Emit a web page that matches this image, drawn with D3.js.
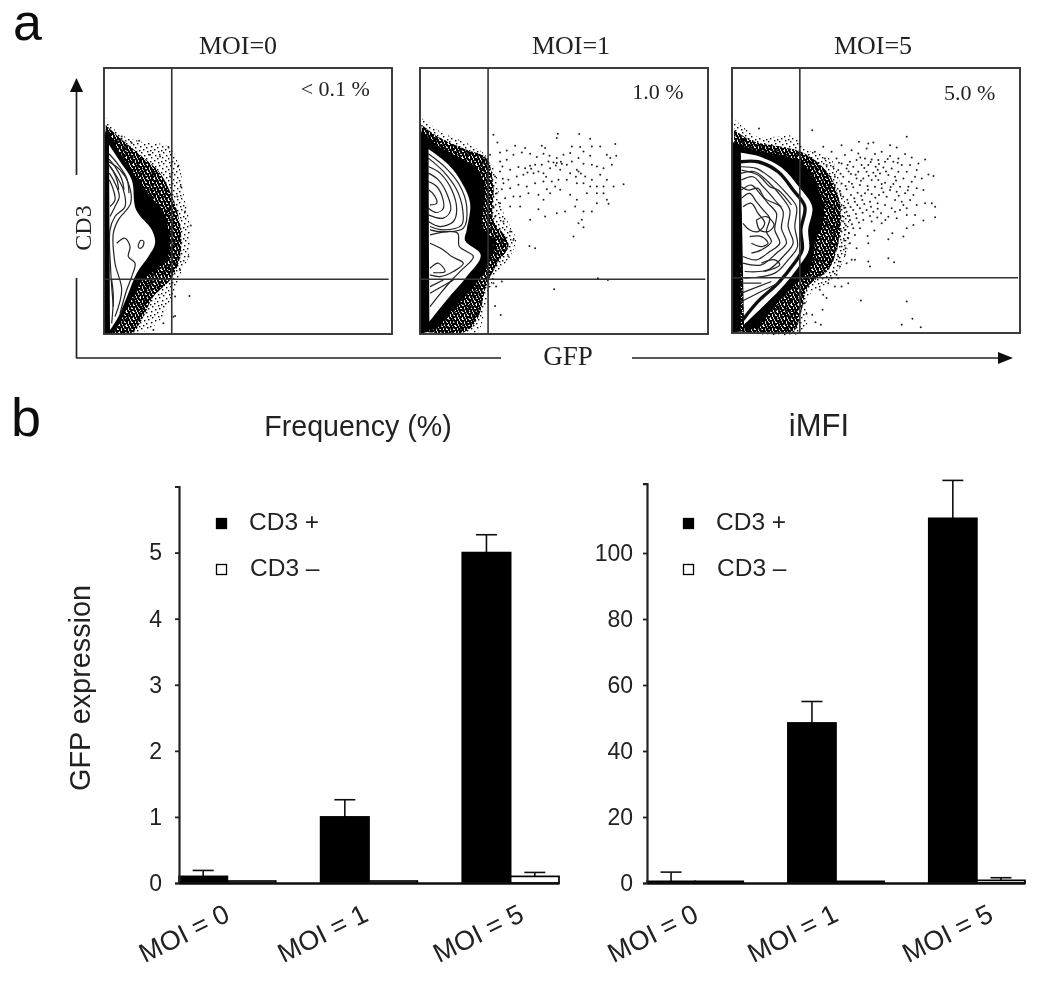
<!DOCTYPE html>
<html><head><meta charset="utf-8">
<style>html,body{margin:0;padding:0;background:#fff}svg{display:block}</style>
<script src="https://cdnjs.cloudflare.com/ajax/libs/d3/7.8.5/d3.min.js"></script>
</head><body><div id="c"></div>
<script>
// ---------- bar chart data ----------
const groups = ["MOI = 0","MOI = 1","MOI = 5"];
const seriesNames = ["CD3 +","CD3 –"];
const freqPos = [0.1,1.0,5.0];
const freqNeg = [0.03,0.03,0.1];
const freqPosErr = [0.09,0.26,0.27];
const freqNegErr = [0,0,0.06];
const freqTicks = [0,1,2,3,4,5,6];
const mfiPos = [0.5,48.5,110.5];
const mfiNeg = [0.5,0.5,0.8];
const mfiPosErr = [2.8,6.5,11.5];
const mfiNegErr = [0,0,0.8];
const mfiTicks = [0,20,40,60,80,100,121];

// ---------- flow cytometry data (GFP channel, CD3 channel) ----------
const aHaloOuter=[[137,262],[175,310],[240,335],[325,350],[358,410],[372,500],[388,580],[385,680],[360,735],[335,800],[300,870],[250,905],[140,908]];
const aHaloInner=[[137,285],[180,325],[240,375],[300,430],[340,510],[362,600],[358,690],[330,750],[280,800],[245,870],[215,908],[140,908]];
const aSolid=[[137,295],[165,345],[210,415],[260,485],[310,550],[328,620],[322,685],[280,725],[240,760],[208,820],[178,880],[158,908],[137,908]];
const aCore=[[147,345],[180,395],[215,450],[228,540],[275,600],[285,640],[265,680],[230,730],[205,790],[175,860],[150,900]];
const aContours=[
[[145,395],[180,420],[205,460],[212,520],[175,570],[160,610],[165,700],[185,780],[165,860]],
[[150,410],[170,440],[190,480],[195,530],[165,560],[150,600],[152,720],[160,830]],
[[148,430],[165,460],[178,500],[165,530],[150,560]],
[[148,450],[160,480],[165,510],[150,530]],
[[147,372],[175,405],[200,445],[207,490]],
[[147,388],[168,415],[186,450],[192,480]],
[[147,405],[160,425],[172,455],[176,480]],
[[170,640],[195,625],[210,650],[205,680],[225,700],[215,740],[200,780],[180,850]],
[[234,648],[242,632],[251,634],[248,650],[238,655],[234,648]],
[[155,750],[160,800],[155,880]]];
const aLeftBar=[[132,300],[145,320],[145,912],[132,912]];
const aDots=[[237,333],[325,352],[355,408],[392,587],[388,798],[345,858],[362,470],[375,545],[385,680],[360,720],[345,800],[330,440],[300,380],[270,375],[215,340],[185,320],[352,500],[340,860],[310,880],[280,900]];

const bHaloOuter=[[35,265],[90,305],[170,340],[225,375],[260,440],[270,520],[300,590],[318,630],[300,680],[250,750],[225,840],[200,905],[40,905]];
const bHaloInner=[[35,285],[90,325],[170,360],[228,385],[250,470],[250,570],[285,620],[295,650],[262,700],[228,770],[205,860],[165,905],[40,905]];
const bSolid=[[35,300],[80,345],[150,385],[200,415],[225,480],[218,590],[258,640],[238,690],[210,745],[165,800],[110,860],[80,895],[40,905]];
const bCore=[[55,358],[110,400],[150,450],[180,520],[170,600],[165,632],[212,675],[170,740],[110,810],[58,875]];
const bContours=[
[[55,372],[105,412],[148,465],[170,530],[160,595],[100,606],[60,600]],
[[55,385],[100,425],[140,480],[158,540],[155,585],[100,600],[60,590]],
[[55,410],[90,430],[125,480],[140,540],[130,575],[90,590],[55,575]],
[[55,430],[85,450],[110,490],[122,540],[100,565],[55,555]],
[[55,455],[80,470],[98,505],[100,535],[80,548],[55,535]],
[[55,480],[72,495],[80,520],[60,525]],
[[60,615],[110,605],[143,610],[148,650],[190,680],[155,720],[130,745],[100,780],[60,830]],
[[60,640],[100,660],[125,680],[160,700],[130,725],[90,740],[60,735]],
[[60,715],[85,700],[105,725],[70,728]],
[[60,770],[100,750]],[[60,790],[130,750]]];
const bLeftBar=[[30,300],[55,340],[55,905],[30,912]];
const bDots=[[443,312],[440,325],[507,313],[540,327],[615,343],[250,315],[262,338],[315,348],[345,355],[395,348],[405,355],[485,350],[510,352],[545,350],[570,350],[520,365],[290,362],[270,368],[240,375],[270,395],[290,390],[310,375],[335,368],[360,372],[380,382],[400,372],[418,378],[440,385],[460,375],[480,370],[505,385],[540,378],[590,375],[618,378],[600,385],[605,405],[580,415],[560,410],[545,405],[520,402],[500,420],[485,395],[470,405],[455,402],[440,400],[430,398],[415,395],[395,405],[375,405],[360,408],[345,415],[325,412],[300,420],[270,425],[255,440],[280,460],[295,450],[320,440],[340,435],[370,430],[385,425],[400,430],[420,415],[450,420],[480,430],[505,425],[525,440],[545,450],[570,435],[590,450],[610,470],[640,463],[580,470],[560,470],[540,470],[520,460],[500,460],[470,450],[445,450],[425,455],[400,455],[375,460],[350,470],[325,465],[300,475],[275,478],[260,490],[285,505],[310,500],[330,500],[355,490],[385,495],[400,510],[420,490],[450,480],[480,495],[500,510],[530,490],[560,490],[580,490],[590,510],[595,522],[560,520],[545,545],[520,545],[495,530],[465,545],[440,550],[405,560],[385,538],[360,570],[330,530],[300,530],[270,520],[250,530],[255,560],[280,575],[300,605],[265,615],[310,630],[290,655],[270,660],[295,680],[515,570],[505,580],[520,592],[490,620],[358,648],[375,655],[258,770],[275,755],[255,828],[272,855],[432,778],[563,745],[593,750],[250,760],[260,600],[275,640],[250,645],[452,396],[437,407],[512,431],[497,441],[363,417],[352,428],[408,441],[278,447],[277,410],[435,470],[410,478]];

const cHaloOuter=[[28,265],[100,320],[205,318],[240,355],[320,390],[350,480],[375,590],[360,680],[320,750],[250,800],[238,905],[40,905]];
const cHaloInner=[[28,300],[90,335],[170,350],[235,368],[310,430],[345,520],[340,640],[310,720],[250,770],[228,850],[205,905],[40,905]];
const cSolid=[[28,335],[90,360],[170,375],[232,400],[278,470],[298,560],[270,640],[258,710],[215,760],[170,805],[135,850],[100,890],[60,905]];
const cCore=[[48,368],[100,378],[170,412],[222,470],[262,530],[250,600],[252,660],[218,715],[170,775],[110,835],[58,885]];
const cRim=[[48,395],[100,395],[160,425],[205,480],[240,530],[228,600],[232,660],[205,705],[160,760],[100,815],[55,870]];
const cContours=[
[[48,410],[95,415],[140,445],[185,490],[215,530],[210,590],[218,650],[190,690],[150,730],[60,745]],
[[48,430],[90,425],[130,455],[170,500],[195,540],[190,590],[205,640],[175,680],[130,720],[60,725]],
[[50,450],[85,440],[115,470],[150,510],[175,545],[170,595],[185,640],[155,670],[110,705],[55,700]],
[[50,480],[80,465],[105,490],[130,520],[155,550],[150,600],[165,640],[135,665],[95,690],[55,680]],
[[50,505],[75,490],[95,515],[115,540],[135,565],[125,605],[140,635],[110,660],[80,670]],
[[55,530],[80,520],[100,550],[120,580],[100,605],[75,600],[55,580]],
[[50,420],[100,435],[135,470],[160,480],[200,525]],
[[50,470],[70,480],[100,475],[120,505],[150,520],[170,530]],
[[95,570],[125,560],[148,585],[130,605],[105,600],[95,570]],
[[75,620],[110,620],[130,640],[110,650],[80,640]],
[[110,700],[150,690],[165,705],[120,725]],
[[50,760],[110,760]],[[50,790],[140,755]],[[50,815],[170,755]]];
const cLeftBar=[[22,330],[48,368],[48,905],[22,910]];
const cDots=[[103,295],[262,300],[545,320],[402,335],[430,340],[445,337],[350,345],[295,350],[495,345],[515,352],[425,355],[380,360],[320,365],[270,365],[540,372],[600,388],[470,365],[450,372],[400,370],[360,375],[335,385],[300,385],[495,378],[520,385],[560,382],[580,400],[610,433],[625,438],[575,420],[555,405],[530,405],[505,395],[480,395],[460,390],[440,388],[420,385],[395,390],[375,395],[350,400],[325,410],[305,405],[340,420],[365,415],[385,410],[410,405],[430,405],[452,410],[475,412],[500,415],[520,425],[545,425],[570,440],[590,445],[560,455],[535,445],[510,440],[490,435],[465,430],[445,428],[425,425],[400,425],[378,432],[355,440],[330,440],[350,460],[372,455],[395,445],[415,445],[440,450],[460,450],[480,458],[505,462],[525,470],[550,470],[575,475],[595,480],[565,495],[540,490],[515,485],[495,480],[470,475],[450,470],[428,468],[405,465],[385,472],[365,478],[345,482],[330,465],[355,500],[378,495],[398,488],[420,490],[440,492],[462,495],[485,500],[510,510],[530,515],[555,510],[575,525],[545,535],[525,540],[500,535],[480,525],[458,520],[435,515],[412,510],[390,515],[370,520],[350,525],[338,510],[345,545],[365,545],[385,540],[405,535],[425,540],[445,545],[468,550],[490,560],[515,565],[545,555],[570,555],[600,520],[620,520],[630,530],[630,562],[595,572],[565,585],[545,595],[535,620],[502,610],[490,628],[448,602],[428,618],[430,640],[470,580],[440,575],[415,570],[395,565],[375,570],[355,575],[340,590],[360,600],[385,595],[405,595],[345,620],[370,625],[390,615],[350,650],[375,640],[395,655],[340,680],[360,675],[380,690],[390,690],[365,700],[345,710],[325,725],[340,745],[350,770],[370,760],[330,770],[310,760],[285,780],[295,795],[305,805],[250,770],[240,820],[293,840],[262,855],[245,852],[272,878],[288,885],[408,812],[545,815],[562,867],[587,893],[530,885],[430,695],[435,710],[490,685],[507,697],[510,545],
[342,398],[368,405],[406,382],[437,396],[462,402],[488,387],[518,398],[347,431],[371,424],[392,434],[418,414],[458,419],[483,424],[513,451],[362,468],[381,461],[408,452],[431,437],[452,438],[470,462],[497,471],[347,492],[367,509],[388,505],[409,497],[429,479],[451,503],[475,487],[521,497],[548,481],[358,534],[377,531],[397,525],[418,522],[438,530],[458,536],[535,525],[352,558],[373,558],[393,552],[413,548],[435,558],[457,563],[481,570],[363,587],[381,583],[402,578],[348,603],[372,610],[358,632],[336,650],[362,655],[342,695],[335,735],[320,745]];

// ---------- flow panels ----------
const panels=[
 {label:"MOI=0",note:"< 0.1 %",noteX:825,noteY:200,px:[104,392],py:[68,334],dx:[132,995],dy:[912,115],gate:[335,748],gateEnd:985,titleCx:238,
  halo:aHaloOuter,inner:aHaloInner,solid:aSolid,core:aCore,rim:null,contours:aContours,bar:aLeftBar,dots:aDots},
 {label:"MOI=1",note:"1.0 %",noteX:743,noteY:208,px:[420,708],py:[68,334],dx:[30,893],dy:[912,115],gate:[234,748],gateEnd:885,titleCx:571,
  halo:bHaloOuter,inner:bHaloInner,solid:bSolid,core:bCore,rim:null,contours:bContours,bar:bLeftBar,dots:bDots},
 {label:"MOI=5",note:"5.0 %",noteX:733,noteY:208,px:[732,1020],py:[68,333],dx:[22,884],dy:[910,113],gate:[225,744],gateEnd:878,titleCx:873,
  halo:cHaloOuter,inner:cHaloInner,solid:cSolid,core:cCore,rim:cRim,contours:cContours,bar:cLeftBar,dots:cDots}
];
const tileA=[[1,1],[5,0],[8,3],[3,4],[7,7],[0,6],[4,8],[9,9]];
const tileB=[[0,0],[3,0],[1,2],[4,2],[2,4],[5,4],[0,5],[3,6],[5,1],[6,6]];
const tileC=[[2,1],[6,3],[10,2],[1,5],[5,7],[9,6],[12,9],[3,10],[7,11],[11,12],[0,12]];

const svg=d3.select("#c").append("svg").attr("width",1050).attr("height",983).style("font-family","'Liberation Sans',Arial,sans-serif");
const defs=svg.append("defs");
defs.append("filter").attr("id","soft").attr("x","-2%").attr("y","-2%").attr("width","104%").attr("height","104%")
  .append("feGaussianBlur").attr("stdDeviation",0.6);
function tile(id,size,pts,r){
  const p=defs.append("pattern").attr("id",id).attr("patternUnits","userSpaceOnUse").attr("width",size).attr("height",size);
  p.selectAll("rect").data(pts).join("rect").attr("x",d=>d[0]).attr("y",d=>d[1]).attr("width",r).attr("height",r).attr("fill","#000");
}
tile("sparse",11,tileA,1.4);
tile("dense",7,tileB,2.1);
tile("mixed",13,tileC,1.6);

const root=svg.append("g").attr("filter","url(#soft)");
root.append("rect").attr("width",1050).attr("height",983).attr("fill","#fff");

panels.forEach(p=>{
  const x=d3.scaleLinear().domain(p.dx).range(p.px);
  const y=d3.scaleLinear().domain(p.dy).range([p.py[1],p.py[0]]);
  const ln=d3.line().x(d=>x(d[0])).y(d=>y(d[1])).curve(d3.curveCatmullRom.alpha(0.5));
  const g=root.append("g");
  g.append("path").attr("d",ln(p.halo)+"Z").attr("fill","url(#sparse)");
  g.append("path").attr("d",ln(p.inner)+"Z").attr("fill","url(#dense)");
  g.append("path").attr("d",ln(p.inner)+"Z").attr("fill","url(#mixed)");
  g.append("path").attr("d",ln(p.inner)+"Z").attr("fill","url(#sparse)");
  g.append("path").attr("d",ln(p.solid)+"Z").attr("fill","#050505");
  g.append("path").attr("d",ln(p.core)+"Z").attr("fill","#fff");
  if(p.rim) g.append("path").attr("d",ln(p.rim)).attr("fill","none").attr("stroke","#111").attr("stroke-width",3.4);
  g.selectAll("path.contour").data(p.contours).join("path").attr("class","contour")
    .attr("d",ln).attr("fill","none").attr("stroke","#222").attr("stroke-width",1.2);
  g.append("path").attr("d",d3.line().x(d=>x(d[0])).y(d=>y(d[1]))(p.bar)+"Z").attr("fill","#050505");
  g.selectAll("circle").data(p.dots).join("circle").attr("cx",d=>x(d[0])).attr("cy",d=>y(d[1])).attr("r",1).attr("fill","#222");
  g.append("line").attr("x1",x(p.gate[0])).attr("x2",x(p.gate[0])).attr("y1",p.py[0]).attr("y2",p.py[1]).attr("stroke","#333").attr("stroke-width",1.6);
  g.append("line").attr("x1",p.px[0]).attr("x2",x(p.gateEnd)).attr("y1",y(p.gate[1])).attr("y2",y(p.gate[1])).attr("stroke","#333").attr("stroke-width",1.6);
  g.append("rect").attr("x",p.px[0]).attr("y",p.py[0]).attr("width",p.px[1]-p.px[0]).attr("height",p.py[1]-p.py[0]).attr("fill","none").attr("stroke","#333").attr("stroke-width",1.9);
  g.append("text").attr("x",x(p.noteX)).attr("y",y(p.noteY)).attr("text-anchor","middle").style("font-family","'Liberation Serif',serif").style("font-size","22px").attr("fill","#222").text(p.note);
  g.append("text").attr("x",p.titleCx).attr("y",54).attr("text-anchor","middle").style("font-family","'Liberation Serif',serif").style("font-size","26px").attr("fill","#222").text(p.label);
});

// CD3 and GFP arrows
const ink="#222";
function seg(x1,y1,x2,y2){root.append("line").attr("x1",x1).attr("y1",y1).attr("x2",x2).attr("y2",y2).attr("stroke",ink).attr("stroke-width",1.7);}
seg(76.5,175,76.5,90); seg(76.5,278,76.5,358); seg(76,358,501,358); seg(632,358,1000,358);
root.append("path").attr("d","M76.5,78L83,92L70,92Z").attr("fill","#111");
root.append("path").attr("d","M1013,358L998,352L998,364Z").attr("fill","#111");
root.append("text").attr("transform","translate(91,228) rotate(-90)").attr("text-anchor","middle").style("font-family","'Liberation Serif',serif").style("font-size","24px").attr("fill","#222").text("CD3");
root.append("text").attr("x",568).attr("y",365).attr("text-anchor","middle").style("font-family","'Liberation Serif',serif").style("font-size","27px").attr("fill","#222").text("GFP");

// panel letters
root.append("text").attr("x",13).attr("y",40).style("font-size","52px").attr("fill","#111").text("a");
root.append("text").attr("x",11).attr("y",436).style("font-size","54px").attr("fill","#111").text("b");

// ---------- bar charts ----------
function barChart(o){
  const g=root.append("g");
  const x=d3.scaleBand().domain(groups).range(o.xr).paddingInner(0.317).paddingOuter(0);
  const xi=d3.scaleBand().domain(seriesNames).range([0,x.bandwidth()]);
  const y=d3.scaleLinear().domain(o.yd).range(o.yr);
  const rows=groups.map((k,i)=>({k,i}));
  [[o.pos,o.posErr,seriesNames[0],"#000"],[o.neg,o.negErr,seriesNames[1],"#fff"]].forEach(([vals,errs,name,fill])=>{
    const s=g.append("g");
    const cap=10.5;
    s.selectAll("line.stem").data(rows.filter(r=>errs[r.i]>0)).join("line").attr("class","stem")
      .attr("x1",r=>x(r.k)+xi(name)+xi.bandwidth()/2).attr("x2",r=>x(r.k)+xi(name)+xi.bandwidth()/2)
      .attr("y1",r=>y(vals[r.i])).attr("y2",r=>y(vals[r.i]+errs[r.i])).attr("stroke","#111").attr("stroke-width",1.6);
    s.selectAll("line.cap").data(rows.filter(r=>errs[r.i]>0)).join("line").attr("class","cap")
      .attr("x1",r=>x(r.k)+xi(name)+xi.bandwidth()/2-cap).attr("x2",r=>x(r.k)+xi(name)+xi.bandwidth()/2+cap)
      .attr("y1",r=>y(vals[r.i]+errs[r.i])).attr("y2",r=>y(vals[r.i]+errs[r.i])).attr("stroke","#111").attr("stroke-width",1.6);
    s.selectAll("rect").data(rows).join("rect")
      .attr("x",r=>x(r.k)+xi(name)).attr("width",xi.bandwidth())
      .attr("y",r=>y(vals[r.i])).attr("height",r=>y(0)-y(vals[r.i]))
      .attr("fill",fill).attr("stroke","#000").attr("stroke-width",1.7);
  });
  const ya=g.append("g").attr("transform",`translate(${o.xr[0]},0)`)
    .call(d3.axisLeft(y).tickValues(o.ticks).tickSize(4).tickPadding(o.tickPad).tickFormat(d=>o.labelled(d)?d:""));
  ya.select(".domain").attr("stroke","#222").attr("stroke-width",2.2);
  ya.selectAll(".tick line").attr("stroke","#222").attr("stroke-width",1.8);
  ya.selectAll("text").style("font-size","23px").style("font-family","'Liberation Sans',Arial,sans-serif").attr("fill","#222");
  const xa=g.append("g").attr("transform",`translate(0,${o.yr[0]})`)
    .call(d3.axisBottom(x).tickSize(0).tickSizeOuter(0));
  xa.select(".domain").attr("stroke","#111").attr("stroke-width",2.3);
  xa.selectAll("text").attr("text-anchor","end").attr("dy",null).attr("y",null)
    .attr("transform",(d,i)=>`translate(${o.labelDx[i]},37) rotate(-26.5)`).style("font-size","27px").style("font-family","'Liberation Sans',Arial,sans-serif").attr("fill","#222");
  // legend
  seriesNames.forEach((n,i)=>{
    const ly=o.legendY[i];
    g.append("rect").attr("x",o.legendX+0.5).attr("y",ly-10.5).attr("width",10).attr("height",10)
      .attr("fill",i?"#fff":"#000").attr("stroke","#000").attr("stroke-width",1.3);
    g.append("text").attr("x",o.legendTextX+i).attr("y",ly+1).style("font-size","24.5px").attr("fill","#222").text(n);
  });
  g.append("text").attr("x",o.titleX).attr("y",436).attr("text-anchor","middle").style("font-size",o.titleSize).attr("fill","#222").text(o.title);
}
barChart({xr:[179,559],yd:[0,6],yr:[883,486.5],pos:freqPos,neg:freqNeg,posErr:freqPosErr,negErr:freqNegErr,ticks:freqTicks,labelled:d=>d<6,tickPad:13,labelDx:[4,1,15],
  legendX:216,legendTextX:249,legendY:[529,575],titleX:358,title:"Frequency (%)",titleSize:"28.6px"});
barChart({xr:[647,1025],yd:[0,121],yr:[883,483.7],pos:mfiPos,neg:mfiNeg,posErr:mfiPosErr,negErr:mfiNegErr,ticks:mfiTicks,labelled:d=>d<=100,tickPad:10,labelDx:[5,4,18],
  legendX:683,legendTextX:716,legendY:[529,575],titleX:819,title:"iMFI",titleSize:"31px"});
root.append("text").attr("transform","translate(90,688) rotate(-90)").attr("text-anchor","middle").style("font-size","28.8px").attr("fill","#222").text("GFP expression");
</script></body></html>
